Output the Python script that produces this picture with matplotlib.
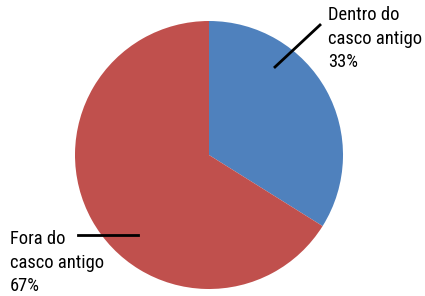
import matplotlib
matplotlib.use("Agg")
import matplotlib.pyplot as plt

labels = ["Dentro do\ncasco antigo\n33%", "Fora do\ncasco antigo\n67%"]
values = [33.9, 66.1]
colors = ["#4F81BD", "#C0504D"]

W, H = 425, 296
fig = plt.figure(figsize=(W / 100, H / 100), dpi=100)
ax = fig.add_axes([0, 0, 1, 1])

ax.pie(values, colors=colors, startangle=90, counterclock=False,
       center=(209, H - 155), radius=134, frame=True,
       wedgeprops=dict(linewidth=0))
ax.set_xlim(0, W)
ax.set_ylim(0, H)
ax.set_aspect("equal")
ax.axis("off")

# leader lines
ax.plot([275, 320], [H - 67, H - 25], color="black", lw=2)
ax.plot([78, 138], [H - 235, H - 235], color="black", lw=2)

font = ["Roboto Condensed", "Roboto"]
ax.text(328, H - 6, labels[0], ha="left", va="top", fontsize=13.3,
        family=font, fontstretch="condensed", linespacing=1.4)
ax.text(10, H - 230, labels[1], ha="left", va="top", fontsize=13.3,
        family=font, fontstretch="condensed", linespacing=1.4)

fig.savefig("out.png", dpi=100)
